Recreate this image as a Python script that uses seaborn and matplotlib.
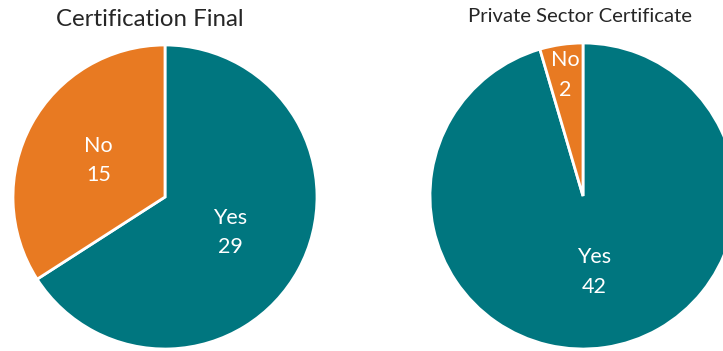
import numpy as np
import matplotlib
matplotlib.use("Agg")
import matplotlib.pyplot as plt
import seaborn as sns

sns.set_theme(style="white")
plt.rcParams["font.family"] = ["Lato", "DejaVu Sans"]

categories = ["Yes", "No"]
cert_final = [29, 15]
private_sector = [42, 2]
titles = ["Certification Final", "Private Sector Certificate"]
colors = ["#00767F", "#E87A22"]

W, H = 723, 351
fig = plt.figure(figsize=(W / 100, H / 100), dpi=100)


def add_pie(cx, cy, r, values, label_dist):
    ax = fig.add_axes([(cx - r) / W, 1 - (cy + r) / H, 2 * r / W, 2 * r / H])
    wedges, _ = ax.pie(values, colors=colors, startangle=90, counterclock=False,
                       wedgeprops=dict(edgecolor="white", linewidth=2))
    ax.set_xlim(-1, 1)
    ax.set_ylim(-1, 1)
    ax.set_aspect("equal")
    for w, cat, v, d in zip(wedges, categories, values, label_dist):
        mid = np.deg2rad((w.theta1 + w.theta2) / 2)
        ax.text(d * np.cos(mid), d * np.sin(mid), f"{cat}\n{v}", ha="center",
                va="center", color="white", fontsize=15.5, linespacing=1.6)
    return ax


add_pie(165, 197, 152, cert_final, [0.49, 0.5])
add_pie(583, 196, 153, private_sector, [0.5, 0.8])

fig.text(150 / W, 1 - 20 / H, titles[0], ha="center", va="center",
         fontsize=17.3, color="#262626")
fig.text(580 / W, 1 - 17 / H, titles[1], ha="center", va="center",
         fontsize=14.6, color="#262626")

fig.savefig("out.png", dpi=100)
